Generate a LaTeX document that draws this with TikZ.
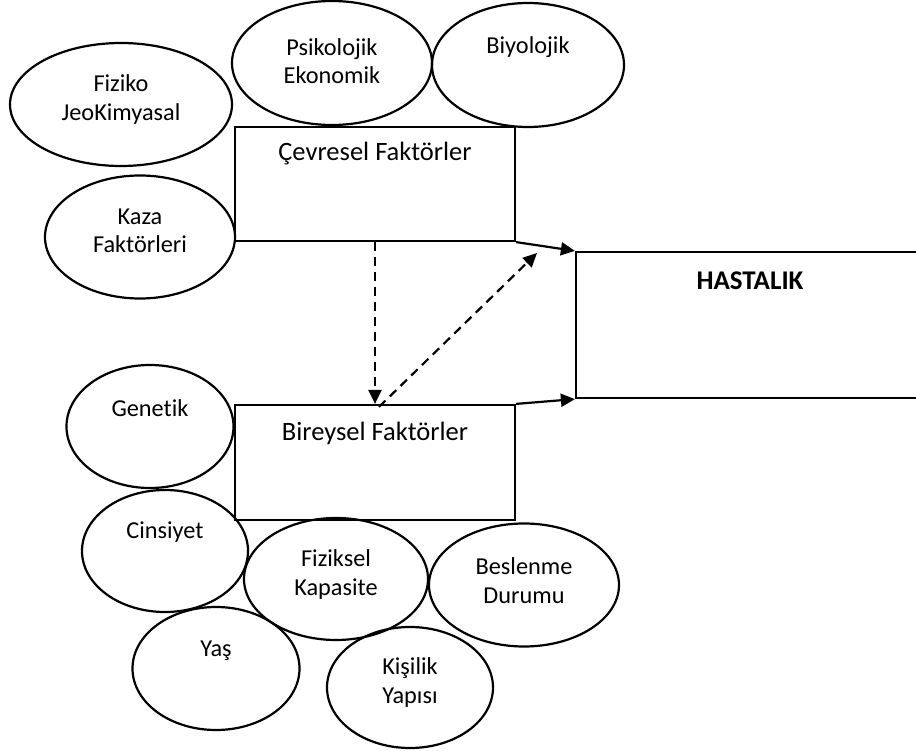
\documentclass[tikz,border=0pt]{standalone}
\usepackage{fontspec}
\setmainfont{Carlito}[Ligatures={NoCommon}]
\usetikzlibrary{shapes.geometric,arrows.meta}
\tikzset{
  oval/.style={draw, ellipse, line width=2.2pt, inner sep=0pt},
  boxnode/.style={draw, rectangle, line width=2.2pt, inner sep=0pt},
  otxt/.style={font=\fontsize{24.3}{28.5}\selectfont, align=center, inner sep=0pt},
  btxt/.style={font=\fontsize{26.5}{30}\selectfont, inner sep=0pt},
  solidarrow/.style={line width=2.2pt, -{Triangle[length=14pt,width=13pt]}},
  dasharrow/.style={line width=2.2pt, dash pattern=on 9pt off 6pt, -{Triangle[length=14pt,width=13pt]}}
}
\begin{document}
\begin{tikzpicture}[x=1pt,y=-1pt]
\useasboundingbox (0,0) rectangle (916,751);

% boxes
\node[boxnode, minimum width=280pt, minimum height=114pt] (ce) at (375,184) {};
\node[btxt] (cet) at ([yshift=-28pt]ce.north) {Çevresel Faktörler};
\node[boxnode, minimum width=280pt, minimum height=115pt] (bi) at (375,462.5) {};
\node[btxt] (bit) at ([yshift=-30pt]bi.north) {Bireysel Faktörler};
\node[boxnode, minimum width=348pt, minimum height=146pt] (ha) at (750,325) {};
\node[btxt, font=\fontsize{27}{30}\selectfont\bfseries] (hat) at ([yshift=-30pt]ha.north) {HASTALIK};

% ellipses
\node[oval, minimum width=200pt, minimum height=124pt] (psi) at (332,63) {};
\node[otxt] (psit) at ([yshift=2pt]psi.center) {Psikolojik\\Ekonomik};
\node[oval, minimum width=192pt, minimum height=124pt] (biy) at (528,65) {};
\node[otxt] (biyt) at ([yshift=18pt]biy.center) {Biyolojik};
\node[oval, minimum width=222pt, minimum height=123pt] (fiz) at (121,104.5) {};
\node[otxt] (fizt) at ([yshift=5pt]fiz.center) {Fiziko\\JeoKimyasal};
\node[oval, minimum width=190pt, minimum height=123pt] (kaz) at (140,237) {};
\node[otxt] (kazt) at ([yshift=6pt]kaz.center) {Kaza\\Faktörleri};
\node[oval, minimum width=167pt, minimum height=123pt] (gen) at (150,426.5) {};
\node[otxt] (gent) at ([yshift=18pt]gen.center) {Genetik};
\node[oval, minimum width=166pt, minimum height=122pt] (cin) at (165,551) {};
\node[otxt] (cint) at ([yshift=19pt]cin.center) {Cinsiyet};
\node[oval, minimum width=184pt, minimum height=122pt] (fk) at (336,579) {};
\node[otxt] (fkt) at ([yshift=4.5pt]fk.center) {Fiziksel\\Kapasite};
\node[oval, minimum width=190pt, minimum height=123pt] (bes) at (524,585) {};
\node[otxt] (best) at ([yshift=4.5pt]bes.center) {Beslenme\\Durumu};
\node[oval, minimum width=167pt, minimum height=123pt] (yas) at (216,668.5) {};
\node[otxt] (yast) at ([yshift=18pt]yas.center) {Yaş};
\node[oval, minimum width=166pt, minimum height=121pt] (kis) at (410,687.5) {};
\node[otxt] (kist) at ([yshift=5pt]kis.center) {Kişilik\\Yapısı};

% connectors
\draw[solidarrow] (ce.south east) -- (ha.north west);
\draw[solidarrow] (bi.north east) -- (ha.south west);
\draw[dasharrow] (ce.south) -- (bi.north);
\coordinate (dtip) at (537,253);
\draw[dasharrow] ([xshift=4pt,yshift=-3pt]bi.north) -- (dtip);
\end{tikzpicture}
\end{document}
